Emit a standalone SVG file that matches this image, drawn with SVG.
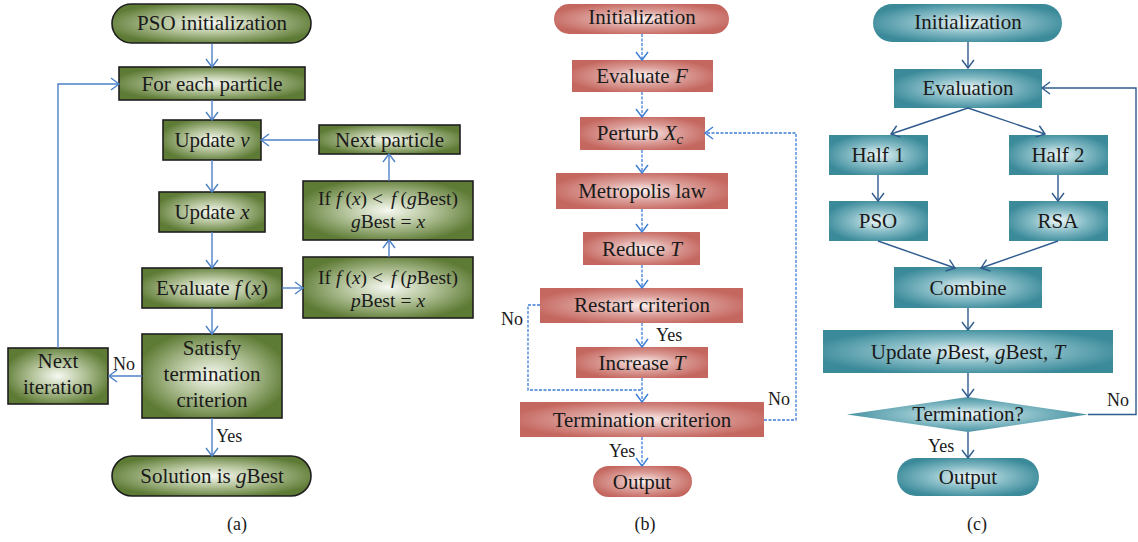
<svg xmlns="http://www.w3.org/2000/svg" width="1138" height="542" viewBox="0 0 1138 542">
<defs>
<radialGradient id="gG" cx="50%" cy="50%" r="55%"><stop offset="0" stop-color="#f7f9f2"/><stop offset="0.45" stop-color="#b7c69e"/><stop offset="1" stop-color="#5e7b35"/></radialGradient>
<radialGradient id="gR" cx="50%" cy="50%" r="55%"><stop offset="0" stop-color="#fbf0ef"/><stop offset="0.5" stop-color="#dc9f9a"/><stop offset="1" stop-color="#c4675f"/></radialGradient>
<radialGradient id="gT" cx="50%" cy="50%" r="55%"><stop offset="0" stop-color="#eef7f8"/><stop offset="0.5" stop-color="#86bcc6"/><stop offset="1" stop-color="#3b8a9a"/></radialGradient>
<marker id="mA" markerUnits="userSpaceOnUse" markerWidth="12" markerHeight="14" refX="9" refY="6" orient="auto" overflow="visible"><path d="M1,0 L9,6 L1,12" fill="none" stroke="#4f82c6" stroke-width="1.4"/></marker>
<marker id="mB" markerUnits="userSpaceOnUse" markerWidth="12" markerHeight="14" refX="9" refY="6" orient="auto" overflow="visible"><path d="M1,0 L9,6 L1,12" fill="none" stroke="#3c7ed6" stroke-width="1.4"/></marker>
<marker id="mC" markerUnits="userSpaceOnUse" markerWidth="12" markerHeight="14" refX="9" refY="6" orient="auto" overflow="visible"><path d="M1,0 L9,6 L1,12" fill="none" stroke="#2f5b8e" stroke-width="1.4"/></marker>
</defs>
<style>
text{font-family:"Liberation Serif","DejaVu Serif",serif;fill:#1a1a1a;font-size:21px}
.m{text-anchor:middle}
.i{font-style:italic}
.lab{font-size:18px}
.sm{font-size:19.5px}
.ga{fill:url(#gG);stroke:#1e1e1e;stroke-width:1.6}
.rb{fill:url(#gR)}
.tc{fill:url(#gT)}
.ca{fill:none;stroke:#4f82c6;stroke-width:1.4}
.cb{fill:none;stroke:#3c7ed6;stroke-width:1.3;stroke-dasharray:3,1.5}
.cc{fill:none;stroke:#2f5b8e;stroke-width:1.4}
</style>

<!-- Panel (a) -->
<g id="a-init"><rect class="ga" x="112" y="4" width="199" height="39" rx="19.5"/><text class="m" x="212" y="30">PSO initialization</text></g>
<g id="a-foreach"><rect class="ga" x="119" y="67" width="186" height="33"/><text class="m" x="212" y="91">For each particle</text></g>
<g id="a-updv"><rect class="ga" x="163" y="120" width="98" height="40"/><text class="m" x="212" y="147">Update <tspan class="i">v</tspan></text></g>
<g id="a-updx"><rect class="ga" x="159" y="192" width="106" height="40"/><text class="m" x="212" y="219">Update <tspan class="i">x</tspan></text></g>
<g id="a-eval"><rect class="ga" x="142" y="268" width="140" height="40"/><text class="m" x="212" y="295">Evaluate <tspan class="i">f</tspan><tspan dx="4">(</tspan><tspan class="i">x</tspan>)</text></g>
<g id="a-sat"><rect class="ga" x="142" y="334" width="140" height="84"/><text class="m" x="212" y="355">Satisfy</text><text class="m" x="212" y="381">termination</text><text class="m" x="212" y="407">criterion</text></g>
<g id="a-nextit"><rect class="ga" x="8" y="348" width="100" height="56"/><text class="m" x="58" y="368">Next</text><text class="m" x="58" y="394">iteration</text></g>
<g id="a-sol"><rect class="ga" x="112" y="456" width="199" height="40" rx="20"/><text class="m" x="212" y="483">Solution is <tspan class="i">g</tspan>Best</text></g>
<g id="a-nextp"><rect class="ga" x="319" y="125" width="141" height="29"/><text class="m" x="389.5" y="147">Next particle</text></g>
<g id="a-ifg"><rect class="ga" x="303" y="181" width="170" height="59"/><text class="m sm" x="388" y="205">If <tspan class="i">f</tspan><tspan dx="4">(</tspan><tspan class="i">x</tspan>)<tspan dx="5">&lt;</tspan><tspan class="i" dx="8">f</tspan><tspan dx="4">(</tspan><tspan class="i">g</tspan>Best)</text><text class="m sm" x="388" y="228"><tspan class="i">g</tspan>Best<tspan dx="5">=</tspan><tspan class="i" dx="5">x</tspan></text></g>
<g id="a-ifp"><rect class="ga" x="303" y="257" width="170" height="61"/><text class="m sm" x="388" y="284">If <tspan class="i">f</tspan><tspan dx="4">(</tspan><tspan class="i">x</tspan>)<tspan dx="5">&lt;</tspan><tspan class="i" dx="8">f</tspan><tspan dx="4">(</tspan><tspan class="i">p</tspan>Best)</text><text class="m sm" x="388" y="307"><tspan class="i">p</tspan>Best<tspan dx="5">=</tspan><tspan class="i" dx="5">x</tspan></text></g>

<!-- Panel (b) -->
<g id="b-init"><rect class="rb" x="554" y="4" width="175" height="30" rx="15"/><text class="m" x="642" y="24">Initialization</text></g>
<g id="b-evalF"><rect class="rb" x="572" y="60" width="141" height="32"/><text class="m" x="642" y="83">Evaluate <tspan class="i">F</tspan></text></g>
<g id="b-perturb"><rect class="rb" x="580" y="117" width="125" height="33"/><text class="m" x="640" y="140">Perturb <tspan class="i">X</tspan><tspan class="i" font-size="15" dy="4">c</tspan></text></g>
<g id="b-metro"><rect class="rb" x="556" y="173" width="172" height="36"/><text class="m" x="642" y="198">Metropolis law</text></g>
<g id="b-reduce"><rect class="rb" x="583" y="232" width="117" height="33"/><text class="m" x="642" y="256">Reduce <tspan class="i">T</tspan></text></g>
<g id="b-restart"><rect class="rb" x="540" y="288" width="203" height="35"/><text class="m" x="642" y="312">Restart criterion</text></g>
<g id="b-incr"><rect class="rb" x="576" y="347" width="132" height="31"/><text class="m" x="642" y="370">Increase <tspan class="i">T</tspan></text></g>
<g id="b-term"><rect class="rb" x="520" y="402" width="244" height="35"/><text class="m" x="642" y="427">Termination criterion</text></g>
<g id="b-out"><rect class="rb" x="593" y="466" width="99" height="31" rx="15.5"/><text class="m" x="642" y="489">Output</text></g>

<!-- Panel (c) -->
<g id="c-init"><rect class="tc" x="873" y="4" width="189" height="38" rx="19"/><text class="m" x="968" y="29">Initialization</text></g>
<g id="c-evaln"><rect class="tc" x="894" y="69" width="148" height="39"/><text class="m" x="968" y="95">Evaluation</text></g>
<g id="c-half1"><rect class="tc" x="829" y="135" width="99" height="40"/><text class="m" x="878" y="162">Half 1</text></g>
<g id="c-half2"><rect class="tc" x="1009" y="135" width="99" height="40"/><text class="m" x="1058" y="162">Half 2</text></g>
<g id="c-pso"><rect class="tc" x="829" y="201" width="99" height="40"/><text class="m" x="878" y="228">PSO</text></g>
<g id="c-rsa"><rect class="tc" x="1009" y="201" width="99" height="40"/><text class="m" x="1058" y="228">RSA</text></g>
<g id="c-comb"><rect class="tc" x="894" y="267" width="148" height="41"/><text class="m" x="968" y="295">Combine</text></g>
<g id="c-upd"><rect class="tc" x="823" y="330" width="290" height="43"/><text class="m" x="968" y="359">Update <tspan class="i">p</tspan>Best, <tspan class="i">g</tspan>Best, <tspan class="i">T</tspan></text></g>
<g id="c-term"><polygon class="tc" points="847,414.5 968,397 1088,414.5 968,432"/><text class="m" x="968" y="421">Termination?</text></g>
<g id="c-out"><rect class="tc" x="897" y="458" width="142" height="38" rx="19"/><text class="m" x="968" y="484">Output</text></g>

<!-- Connectors -->
<g id="connectors">
<path class="ca" d="M212,44 V67" marker-end="url(#mA)"/>
<path class="ca" d="M212,100 V120" marker-end="url(#mA)"/>
<path class="ca" d="M212,160 V192" marker-end="url(#mA)"/>
<path class="ca" d="M212,232 V268" marker-end="url(#mA)"/>
<path class="ca" d="M212,308 V334" marker-end="url(#mA)"/>
<path class="ca" d="M142,376 H109" marker-end="url(#mA)"/>
<path class="ca" d="M58,348 V84 H119" marker-end="url(#mA)"/>
<path class="ca" d="M212,418 V456" marker-end="url(#mA)"/>
<path class="ca" d="M282,288 H303" marker-end="url(#mA)"/>
<path class="ca" d="M389,257 V240" marker-end="url(#mA)"/>
<path class="ca" d="M389,181 V154" marker-end="url(#mA)"/>
<path class="ca" d="M319,140 H261" marker-end="url(#mA)"/>

<path class="cb" d="M642,34 V60" marker-end="url(#mB)"/>
<path class="cb" d="M642,92 V117" marker-end="url(#mB)"/>
<path class="cb" d="M642,150 V173" marker-end="url(#mB)"/>
<path class="cb" d="M642,209 V232" marker-end="url(#mB)"/>
<path class="cb" d="M642,265 V288" marker-end="url(#mB)"/>
<path class="cb" d="M642,323 V347" marker-end="url(#mB)"/>
<path class="cb" d="M642,378 V402" marker-end="url(#mB)"/>
<path class="cb" d="M540,305 H528 V390 H642"/>
<path class="cb" d="M764,420 H796 V133 H705" marker-end="url(#mB)"/>
<path class="cb" d="M642,437 V466" marker-end="url(#mB)"/>

<path class="cc" d="M968,42 V68" marker-end="url(#mC)"/>
<path class="cc" d="M968,108 L891,134" marker-end="url(#mC)"/>
<path class="cc" d="M968,108 L1045,134" marker-end="url(#mC)"/>
<path class="cc" d="M878,175 V201" marker-end="url(#mC)"/>
<path class="cc" d="M1058,175 V201" marker-end="url(#mC)"/>
<path class="cc" d="M878,241 L955,268" marker-end="url(#mC)"/>
<path class="cc" d="M1058,241 L981,268" marker-end="url(#mC)"/>
<path class="cc" d="M968,308 V330" marker-end="url(#mC)"/>
<path class="cc" d="M968,373 V397" marker-end="url(#mC)"/>
<path class="cc" d="M1088,414.5 H1136 V88 H1042" marker-end="url(#mC)"/>
<path class="cc" d="M968,432 V458" marker-end="url(#mC)"/>
</g>

<!-- Labels -->
<g id="labels">
<text class="lab" x="113" y="370">No</text>
<text class="lab" x="216" y="442">Yes</text>
<text class="lab" x="501" y="325">No</text>
<text class="lab" x="656" y="341">Yes</text>
<text class="lab" x="768" y="405">No</text>
<text class="lab" x="609" y="457">Yes</text>
<text class="lab" x="1107" y="406">No</text>
<text class="lab" x="928" y="452">Yes</text>
<text class="m lab" x="237" y="530">(a)</text>
<text class="m lab" x="645" y="530">(b)</text>
<text class="m lab" x="977" y="530">(c)</text>
</g>
</svg>
